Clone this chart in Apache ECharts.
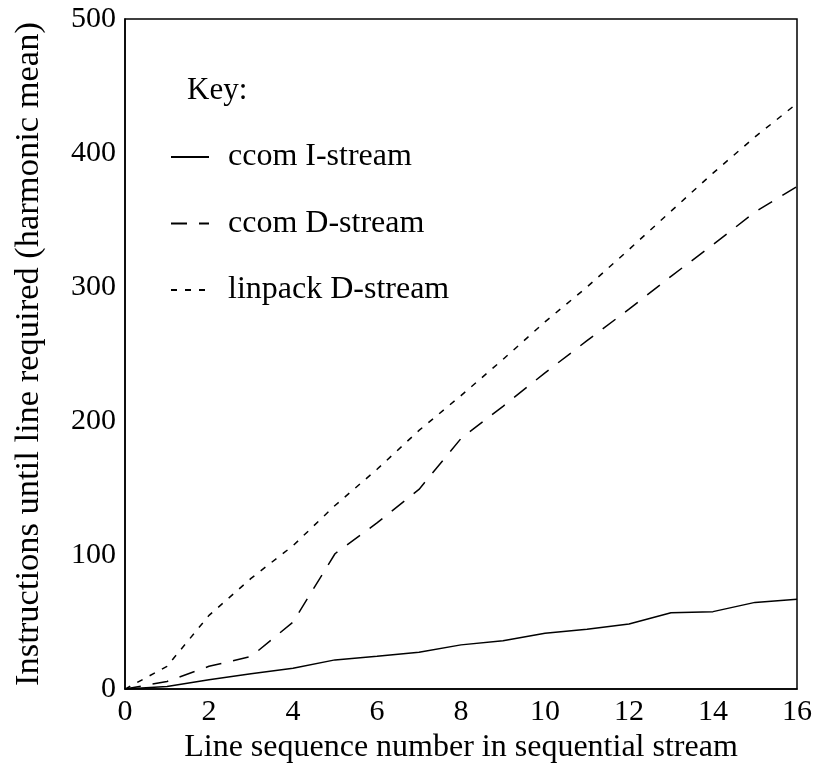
<!DOCTYPE html>
<html><head><meta charset="utf-8">
<script src="https://cdn.jsdelivr.net/npm/echarts@6/dist/echarts.min.js"></script>
<style>html,body{margin:0;padding:0;background:#fff}#c{width:816px;height:769px}</style>
</head><body><div id="c"></div>
<script>
const xValues = [0,1,2,3,4,5,6,7,8,9,10,11,12,13,14,15,16];
const ccomI = [0,2,7,11.4,15.6,21.8,24.5,27.5,33,36,41.7,44.6,48.6,57,57.8,64.7,67];
const ccomD = [0,5.7,17,24.3,50,101,124,149,187,211,236,260,283.5,308,331.6,356,375];
const linpackD = [0,17,55,82.6,107,137,164,193,219,246,274,300,328,356.6,385,412,437];
const seriesNames = ['ccom I-stream','ccom D-stream','linpack D-stream'];
const font = "'Liberation Serif','Times New Roman',serif";
const toPairs = a => xValues.map((x,i)=>[x,a[i]]);
const chart = echarts.init(document.getElementById('c'));
chart.setOption({
  animation:false,
  backgroundColor:'#fff',
  grid:{left:125,top:19,width:672,height:672,show:true,borderColor:'#000',borderWidth:1.5,backgroundColor:'transparent'},
  xAxis:{type:'value',min:0,max:16,interval:2,
    name:'Line sequence number in sequential stream',nameLocation:'middle',nameGap:39,
    nameTextStyle:{fontFamily:font,fontSize:32,color:'#000'},
    axisLine:{show:true,lineStyle:{color:'#000',width:1.5}},axisTick:{show:false},splitLine:{show:false},
    axisLabel:{fontFamily:font,fontSize:30,color:'#000',margin:8}},
  yAxis:{type:'value',min:0,max:500,interval:100,
    name:'Instructions until line required (harmonic mean)',nameLocation:'middle',nameGap:79,
    nameTextStyle:{fontFamily:font,fontSize:34.5,color:'#000'},
    axisLine:{show:true,lineStyle:{color:'#000',width:1.5}},axisTick:{show:false},splitLine:{show:false},
    axisLabel:{fontFamily:font,fontSize:30,color:'#000',margin:9}},
  legend:{orient:'vertical',left:165,top:136,itemWidth:38,itemHeight:14,itemGap:34.5,
    itemStyle:{opacity:0},
    textStyle:{fontFamily:font,fontSize:32,color:'#000',padding:[0,0,0,14]},
    data:seriesNames},
  graphic:[{type:'text',left:187,top:75,style:{text:'Key:',font:"31px 'Liberation Serif'",fill:'#000'}}],
  series:[
    {name:seriesNames[0],type:'line',data:toPairs(ccomI),symbol:'none',lineStyle:{color:'#000',width:1.5,type:'solid'},itemStyle:{color:'#000'}},
    {name:seriesNames[1],type:'line',data:toPairs(ccomD),symbol:'none',lineStyle:{color:'#000',width:1.5,type:[16,12]},itemStyle:{color:'#000'}},
    {name:seriesNames[2],type:'line',data:toPairs(linpackD),symbol:'none',lineStyle:{color:'#000',width:1.5,type:[6,8]},itemStyle:{color:'#000'}}
  ]
});
</script></body></html>
